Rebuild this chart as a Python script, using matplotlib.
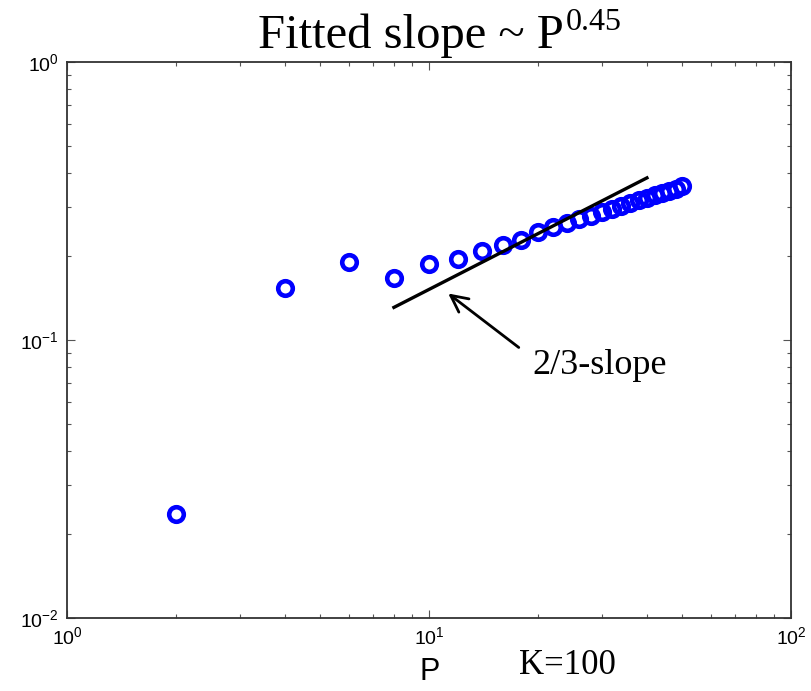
"""Log-log scatter of fitted slope vs P, with a 2/3-slope reference line."""

import matplotlib
matplotlib.use("Agg")
import matplotlib.pyplot as plt
from matplotlib.ticker import FuncFormatter, LogLocator
import numpy as np

# data
p_values = [2, 4, 6, 8, 10, 12, 14, 16, 18, 20, 22, 24, 26, 28, 30,
            32, 34, 36, 38, 40, 42, 44, 46, 48, 50]
slope_values = [0.0237, 0.154, 0.191, 0.167, 0.188, 0.196, 0.209, 0.220, 0.229,
                0.245, 0.255, 0.264, 0.272, 0.280, 0.288, 0.296, 0.303, 0.311,
                0.318, 0.324, 0.331, 0.337, 0.344, 0.350, 0.358]

# reference line with 2/3 slope
ref_p = [8, 40]
ref_y = [0.131, 0.383]

title_main = "Fitted slope ~ P"
title_exp = "0.45"
xlabel_text = "P"
note_text = "K=100"
arrow_text = "2/3-slope"

plt.rcParams["mathtext.fontset"] = "custom"
plt.rcParams["mathtext.rm"] = "Liberation Sans"
plt.rcParams["mathtext.sf"] = "Liberation Sans"
plt.rcParams["mathtext.it"] = "Liberation Sans:italic"

W, H = 811, 691
fig = plt.figure(figsize=(W / 100, H / 100), dpi=100)
ax = fig.add_axes([67 / W, 1 - 618 / H, (791 - 67) / W, (618 - 62) / H])

ax.plot(p_values, slope_values, "o", color="#0000ff", markerfacecolor="none",
        markersize=10.5, markeredgewidth=3.3)
ax.plot(ref_p, ref_y, "-", color="black", linewidth=2.4)

ax.set_xscale("log")
ax.set_yscale("log")
ax.set_xlim(1, 100)
ax.set_ylim(0.01, 1)

fmt = FuncFormatter(lambda v, pos: r"$\mathsf{10^{%d}}$" % int(round(np.log10(v))))
for axis in (ax.xaxis, ax.yaxis):
    axis.set_major_locator(LogLocator(base=10, numticks=5))
    axis.set_minor_locator(LogLocator(base=10, subs=np.arange(2, 10), numticks=10))
    axis.set_major_formatter(fmt)
ax.tick_params(which="both", direction="in", top=True, right=True,
               width=0.8, color="#555555", labelsize=14)
ax.tick_params(which="major", length=6)
ax.tick_params(which="minor", length=3)
ax.tick_params(axis="x", pad=6)
ax.tick_params(axis="y", pad=6)
for spine in ax.spines.values():
    spine.set_linewidth(1.3)
    spine.set_color("#333333")

# arrow pointing at the reference line
ax.annotate("", xy=(11.3, 0.147), xytext=(17.7, 0.094),
            arrowprops=dict(arrowstyle="->", color="black", lw=2.0,
                            mutation_scale=30, shrinkA=0, shrinkB=0))
ax.text(19.3, 0.081, arrow_text, fontsize=26, family="Liberation Serif",
        ha="left", va="center")

# title: main text plus a smaller raised exponent
t = fig.text(258 / W, 1 - 48 / H, title_main, fontsize=35, family="Liberation Serif",
             ha="left", va="baseline")
fig.canvas.draw()
bb = t.get_window_extent()
fig.text(bb.x1 / W + 0.002, 1 - 30 / H, title_exp, fontsize=23,
         family="Liberation Serif", ha="left", va="baseline")

fig.text(430 / W, 1 - 672 / H, xlabel_text, fontsize=22, family="Liberation Sans",
         ha="center", va="center")
fig.text(567 / W, 1 - 665 / H, note_text, fontsize=25, family="Liberation Serif",
         ha="center", va="center")

fig.savefig("out.png", dpi=100)
